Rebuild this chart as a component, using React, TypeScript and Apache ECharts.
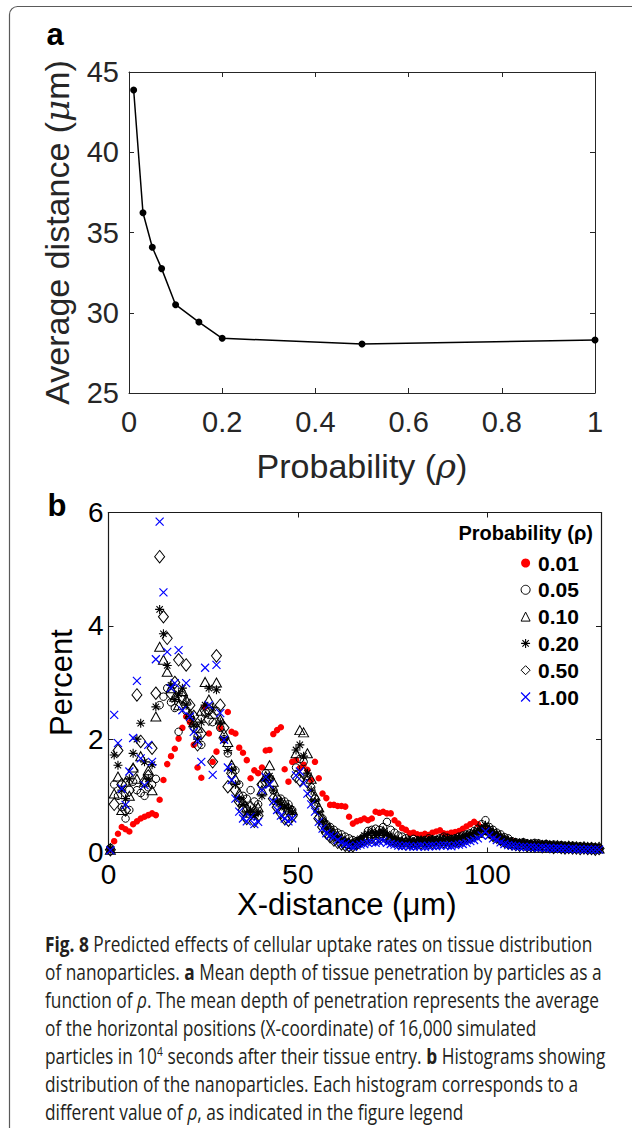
import React, { useEffect, useRef } from "react";
import * as echarts from "echarts";

// ---------- Panel a data ----------
const RHO_A = [0.01, 0.03, 0.05, 0.07, 0.1, 0.15, 0.2, 0.5, 1];
const AVG_DISTANCE = [43.88, 36.23, 34.08, 32.75, 30.5, 29.42, 28.41, 28.05, 28.3];

// ---------- Panel b data (1 µm bins, 0..130 µm) ----------
const BIN_WIDTH_UM = 1;
const P_001 = [
  0.05, 0.2, 0.33, 0.45, 0.41, 0.37, 0.5, 0.55, 0.6, 0.63,
  0.66, 0.69, 0.66, 0.93, 1.28, 1.56, 1.7, 1.83, 2.01, 2.2,
  2.4, 2.3, 1.9, 1.5, 1.32, 2.57, 2.1, 1.6, 1.78, 2.2,
  1.98, 2.48, 2.13, 2.1, 1.85, 1.76, 1.63, 1.31, 1.45, 1.4,
  1.5, 1.8, 1.81, 2.09, 2.16, 2.21, 1.47, 1.25, 1.6, 1.63,
  1.49, 1.55, 1.46, 1.28, 1.6, 1.31, 1.04, 0.96, 0.84, 0.84,
  0.82, 0.82, 0.81, 0.63, 0.51, 0.55, 0.57, 0.6, 0.57, 0.6,
  0.72, 0.7, 0.72, 0.69, 0.69, 0.57, 0.51, 0.43, 0.4, 0.34,
  0.35, 0.32, 0.31, 0.33, 0.31, 0.35, 0.37, 0.39, 0.34, 0.33,
  0.35, 0.36, 0.38, 0.42, 0.46, 0.5, 0.54, 0.5, 0.44, 0.4,
  0.35, 0.3, 0.25, 0.22, 0.2, 0.18, 0.2, 0.17, 0.15, 0.16,
  0.14, 0.15, 0.13, 0.14, 0.12, 0.13, 0.12, 0.11, 0.12, 0.1,
  0.11, 0.1, 0.1, 0.09, 0.1, 0.09, 0.08, 0.09, 0.08, 0.08,
];
const P_005 = [
  0.08, 1.2, 1.0, 0.8, 0.6, 0.75, 1.25, 1.1, 1.05, 1.0,
  1.15, 1.2, 1.3, 2.6, 2.75, 2.9, 2.65, 2.55, 2.13, 2.7,
  2.5, 2.35, 2.2, 2.05, 1.9, 2.45, 2.5, 2.3, 2.5, 2.2,
  2.0, 1.75, 1.5, 1.45, 1.2, 1.0, 0.95, 1.1, 0.9, 0.85,
  1.2, 1.4, 1.3, 1.1, 0.95, 0.95, 0.9, 0.85, 0.75, 1.5,
  1.65, 1.6, 1.35, 1.15, 0.95, 0.75, 0.6, 0.5, 0.45, 0.4,
  0.35, 0.32, 0.28, 0.25, 0.22, 0.2, 0.22, 0.28, 0.38, 0.4,
  0.42, 0.4, 0.45, 0.54, 0.4, 0.35, 0.3, 0.28, 0.25, 0.22,
  0.24, 0.22, 0.2, 0.22, 0.25, 0.23, 0.22, 0.25, 0.28, 0.26,
  0.24, 0.25, 0.28, 0.3, 0.32, 0.34, 0.38, 0.42, 0.5, 0.57,
  0.45, 0.4, 0.35, 0.32, 0.27, 0.25, 0.2, 0.18, 0.17, 0.18,
  0.16, 0.15, 0.17, 0.16, 0.14, 0.15, 0.13, 0.14, 0.12, 0.13,
  0.12, 0.11, 0.12, 0.1, 0.11, 0.1, 0.09, 0.1, 0.09, 0.08,
];
const P_010 = [
  0.05, 1.04, 1.34, 0.75, 1.25, 1.0, 1.5, 1.3, 1.7, 1.25,
  1.45, 1.1, 2.4, 3.63, 3.4, 3.19, 2.9, 2.75, 2.6, 2.85,
  2.7, 2.45, 2.3, 2.2, 2.5, 3.01, 2.7, 2.45, 3.0, 2.35,
  2.1, 1.95, 1.55, 1.3, 1.05, 0.9, 0.8, 0.7, 0.75, 0.8,
  1.1, 1.35, 1.54, 1.25, 1.0, 0.9, 0.85, 0.8, 0.75, 1.75,
  2.16, 2.12, 1.75, 1.3, 1.0, 0.8, 0.6, 0.5, 0.42, 0.35,
  0.3, 0.25, 0.2, 0.17, 0.15, 0.18, 0.22, 0.25, 0.3, 0.34,
  0.32, 0.35, 0.38, 0.3, 0.26, 0.22, 0.2, 0.18, 0.2, 0.18,
  0.17, 0.19, 0.2, 0.18, 0.2, 0.22, 0.2, 0.21, 0.24, 0.22,
  0.2, 0.22, 0.24, 0.26, 0.28, 0.3, 0.32, 0.35, 0.4, 0.45,
  0.4, 0.35, 0.3, 0.27, 0.22, 0.2, 0.17, 0.16, 0.15, 0.16,
  0.14, 0.13, 0.14, 0.12, 0.13, 0.12, 0.11, 0.12, 0.1, 0.11,
  0.1, 0.09, 0.1, 0.09, 0.08, 0.09, 0.08, 0.07, 0.08, 0.07,
];
const P_020 = [
  0.06, 1.72, 1.54, 1.1, 0.95, 1.3, 1.75, 2.0, 2.28, 1.6,
  1.3, 1.55, 2.57, 4.29, 3.86, 3.3, 2.95, 2.7, 2.8, 2.9,
  2.6, 2.4, 2.25, 2.0, 2.3, 2.6, 2.9, 2.55, 2.87, 2.3,
  2.0, 1.8, 1.45, 1.2, 0.95, 0.85, 0.7, 0.75, 0.65, 0.7,
  1.0, 1.3, 1.35, 1.1, 0.9, 0.85, 0.8, 0.78, 0.7, 1.81,
  1.9, 1.7, 1.4, 1.1, 0.9, 0.7, 0.55, 0.45, 0.38, 0.3,
  0.25, 0.22, 0.2, 0.18, 0.17, 0.2, 0.24, 0.3, 0.33, 0.36,
  0.3, 0.34, 0.36, 0.32, 0.28, 0.24, 0.22, 0.2, 0.19, 0.2,
  0.18, 0.2, 0.22, 0.2, 0.21, 0.23, 0.22, 0.24, 0.22, 0.25,
  0.23, 0.24, 0.26, 0.27, 0.3, 0.32, 0.35, 0.38, 0.42, 0.48,
  0.42, 0.36, 0.32, 0.28, 0.24, 0.21, 0.19, 0.17, 0.16, 0.15,
  0.16, 0.14, 0.15, 0.13, 0.14, 0.12, 0.13, 0.12, 0.11, 0.12,
  0.1, 0.11, 0.1, 0.09, 0.1, 0.09, 0.08, 0.09, 0.08, 0.07,
];
const P_050 = [
  0.05, 0.85, 1.8, 1.2, 0.75, 1.1, 1.45, 2.78, 1.96, 1.25,
  1.35, 1.84, 2.81, 5.22, 4.16, 3.78, 2.8, 3.0, 3.4, 2.75,
  3.31, 2.6, 2.4, 1.9, 2.1, 2.5, 2.35, 1.6, 3.47, 2.6,
  2.2, 1.16, 1.4, 1.1, 0.9, 0.75, 0.6, 0.8, 0.55, 0.65,
  1.2, 1.25, 1.3, 0.95, 0.8, 0.7, 0.6, 0.57, 0.65, 1.34,
  1.28, 1.4, 1.25, 1.0, 0.85, 0.6, 0.45, 0.35, 0.28, 0.22,
  0.18, 0.15, 0.13, 0.12, 0.12, 0.15, 0.2, 0.22, 0.25, 0.27,
  0.25, 0.28, 0.3, 0.26, 0.22, 0.2, 0.17, 0.16, 0.15, 0.17,
  0.15, 0.16, 0.17, 0.15, 0.17, 0.18, 0.16, 0.18, 0.19, 0.17,
  0.18, 0.2, 0.21, 0.22, 0.25, 0.27, 0.3, 0.33, 0.38, 0.42,
  0.36, 0.3, 0.27, 0.23, 0.2, 0.17, 0.15, 0.14, 0.13, 0.14,
  0.12, 0.12, 0.11, 0.12, 0.1, 0.11, 0.1, 0.09, 0.1, 0.09,
  0.08, 0.09, 0.08, 0.08, 0.07, 0.08, 0.07, 0.07, 0.06, 0.07,
];
const P_100 = [
  0.04, 2.43, 1.93, 1.13, 0.84, 1.43, 2.02, 3.03, 1.66, 1.19,
  1.9, 1.6, 3.41, 5.84, 4.59, 3.54, 2.9, 2.99, 3.57, 2.51,
  2.99, 2.4, 2.13, 1.96, 1.6, 3.26, 2.6, 1.37, 3.31, 2.46,
  1.99, 1.5, 1.28, 0.95, 0.72, 0.6, 0.55, 0.63, 0.5, 0.54,
  1.1, 1.33, 1.2, 0.9, 0.75, 0.65, 0.6, 0.55, 0.6, 1.36,
  1.43, 1.22, 1.04, 0.85, 0.72, 0.54, 0.42, 0.34, 0.3, 0.28,
  0.22, 0.18, 0.15, 0.12, 0.1, 0.12, 0.14, 0.15, 0.17, 0.18,
  0.17, 0.19, 0.2, 0.17, 0.15, 0.14, 0.12, 0.11, 0.12, 0.11,
  0.1, 0.11, 0.12, 0.1, 0.11, 0.12, 0.11, 0.12, 0.13, 0.12,
  0.11, 0.13, 0.14, 0.15, 0.17, 0.2, 0.22, 0.25, 0.3, 0.37,
  0.3, 0.25, 0.22, 0.18, 0.15, 0.13, 0.12, 0.11, 0.1, 0.1,
  0.09, 0.1, 0.09, 0.08, 0.09, 0.08, 0.08, 0.07, 0.08, 0.07,
  0.07, 0.06, 0.07, 0.06, 0.06, 0.05, 0.06, 0.05, 0.05, 0.05,
];
const RHO_LABELS = ["0.01", "0.05", "0.10", "0.20", "0.50", "1.00"];

const CAPTION_LINES = [
  "{b|Fig. 8} Predicted effects of cellular uptake rates on tissue distribution",
  "of nanoparticles. {b|a} Mean depth of tissue penetration by particles as a",
  "function of {i|ρ}. The mean depth of penetration represents the average",
  "of the horizontal positions (X-coordinate) of 16,000 simulated",
  "particles in 10{sup|4} seconds after their tissue entry. {b|b} Histograms showing",
  "distribution of the nanoparticles. Each histogram corresponds to a",
  "different value of {i|ρ}, as indicated in the figure legend",
];

const SANS = "'Liberation Sans', Arial, Helvetica, sans-serif";
const CAP_FONT = "'Open Sans', 'Noto Sans', sans-serif";
const CROSS = "path://M0,0L10,10M10,0L0,10";
const STAR = "path://M5,0L5,10M0,5L10,5M1.46,1.46L8.54,8.54M8.54,1.46L1.46,8.54";

const MARKERS = [
  { symbol: "circle", size: 6.5, fill: "#ff0000", stroke: "#ff0000", lw: 0 },
  { symbol: "circle", size: 7.5, fill: "rgba(0,0,0,0)", stroke: "#000", lw: 1 },
  { symbol: "triangle", size: [10, 9], fill: "rgba(0,0,0,0)", stroke: "#000", lw: 1 },
  { symbol: STAR, size: 9, fill: "rgba(0,0,0,0)", stroke: "#000", lw: 1.1 },
  { symbol: "diamond", size: [10, 12.5], fill: "rgba(0,0,0,0)", stroke: "#000", lw: 1 },
  { symbol: CROSS, size: 8, fill: "rgba(0,0,0,0)", stroke: "#0000ff", lw: 1.2 },
];

function measure(font: string, text: string): number {
  const ctx = document.createElement("canvas").getContext("2d");
  if (!ctx) return text.length * 10;
  ctx.font = font;
  return ctx.measureText(text).width;
}

export default function App() {
  const ref = useRef<HTMLDivElement>(null);

  useEffect(() => {
    if (!ref.current) return;
    const chart = echarts.init(ref.current, null, { renderer: "svg" });

    const seriesB = [P_001, P_005, P_010, P_020, P_050, P_100];
    const capSize = 22;
    const w1 =
      measure(`bold ${capSize}px 'Open Sans'`, "Fig. 8") +
      measure(`${capSize}px 'Open Sans'`, " Predicted effects of cellular uptake rates on tissue distribution");
    const capScale = 548 / w1;

    const axisCommonA = {
      axisLine: { show: true, onZero: false, lineStyle: { color: "#262626", width: 1 } },
      axisTick: { show: true, inside: true, length: 5, lineStyle: { color: "#262626", width: 1 } },
      splitLine: { show: false },
    };
    const axisCommonB = {
      axisLine: { show: true, onZero: false, lineStyle: { color: "#1a1a1a", width: 1.2 } },
      axisTick: { show: true, inside: true, length: 5, lineStyle: { color: "#1a1a1a", width: 1 } },
      splitLine: { show: false },
    };
    const labA = { fontSize: 29, color: "#262626", fontFamily: SANS };
    const labB = { fontSize: 28, color: "#000", fontFamily: SANS };

    const option: any = {
      animation: false,
      backgroundColor: "#fff",
      grid: [
        { left: 129, top: 72, width: 466, height: 321 },
        { left: 108.5, top: 512.5, width: 492.5, height: 340 },
      ],
      xAxis: [
        {
          gridIndex: 0, type: "value", min: 0, max: 1, interval: 0.2, position: "bottom",
          ...axisCommonA,
          axisLabel: { ...labA, margin: 14 },
          name: "Probability ({i|ρ})", nameLocation: "middle", nameGap: 56,
          nameTextStyle: {
            fontSize: 34, color: "#262626", fontFamily: SANS,
            rich: { i: { fontSize: 34, fontStyle: "italic", fontFamily: "'DejaVu Serif', 'Liberation Serif', serif", color: "#262626" } },
          },
        },
        { gridIndex: 0, type: "value", min: 0, max: 1, interval: 0.2, position: "top", ...axisCommonA, axisLabel: { show: false } },
        {
          gridIndex: 1, type: "value", min: 0, max: 130, interval: 50, position: "bottom",
          ...axisCommonB,
          axisLabel: { ...labB, margin: 8, showMaxLabel: false },
          name: "X-distance (μm)", nameLocation: "middle", nameGap: 36,
          nameTextStyle: { fontSize: 31, color: "#000", fontFamily: SANS, padding: [0, 16, 0, 0] },
        },
        { gridIndex: 1, type: "value", min: 0, max: 130, interval: 50, position: "top", ...axisCommonB, axisLabel: { show: false } },
      ],
      yAxis: [
        {
          gridIndex: 0, type: "value", min: 25, max: 45, interval: 5, position: "left",
          ...axisCommonA,
          axisLabel: { ...labA, margin: 10 },
          name: "Average distance ({i|μ}m)", nameLocation: "middle", nameGap: 55,
          nameTextStyle: {
            fontSize: 34, color: "#262626", fontFamily: SANS,
            rich: { i: { fontSize: 34, fontStyle: "italic", fontFamily: "'DejaVu Serif', 'Liberation Serif', serif", color: "#262626" } },
          },
        },
        { gridIndex: 0, type: "value", min: 25, max: 45, interval: 5, position: "right", ...axisCommonA, axisLabel: { show: false } },
        {
          gridIndex: 1, type: "value", min: 0, max: 6, interval: 2, position: "left",
          ...axisCommonB,
          axisLabel: { ...labB, margin: 5 },
          name: "Percent", nameLocation: "middle", nameGap: 30,
          nameTextStyle: { fontSize: 31, color: "#000", fontFamily: SANS },
        },
        { gridIndex: 1, type: "value", min: 0, max: 6, interval: 2, position: "right", ...axisCommonB, axisLabel: { show: false } },
      ],
      legend: {
        orient: "vertical",
        left: 520.5,
        top: 552,
        padding: 0,
        itemWidth: 9,
        itemHeight: 9,
        itemGap: 4.8,
        selectedMode: false,
        textStyle: { fontSize: 21, fontWeight: "bold", color: "#000", fontFamily: SANS, lineHeight: 22, padding: [0, 0, 0, 3] },
        data: RHO_LABELS.map((name, k) => ({
          name,
          icon: MARKERS[k].symbol,
          itemStyle: { color: MARKERS[k].fill, borderColor: MARKERS[k].stroke, borderWidth: MARKERS[k].lw },
        })),
      },
      series: [
        {
          name: "Average distance",
          type: "line",
          xAxisIndex: 0,
          yAxisIndex: 0,
          data: RHO_A.map((r, i) => [r, AVG_DISTANCE[i]]),
          symbol: "circle",
          symbolSize: 7,
          lineStyle: { color: "#000", width: 1.5 },
          itemStyle: { color: "#000" },
        },
        ...seriesB.map((vals, k) => ({
          name: RHO_LABELS[k],
          type: "scatter",
          xAxisIndex: 2,
          yAxisIndex: 2,
          data: vals.map((v, i) => [(i + 0.5) * BIN_WIDTH_UM, v]),
          symbol: MARKERS[k].symbol,
          symbolSize: MARKERS[k].size,
          itemStyle: {
            color: MARKERS[k].fill,
            borderColor: MARKERS[k].stroke,
            borderWidth: MARKERS[k].lw,
            opacity: 1,
          },
        })),
      ],
      graphic: [
        {
          type: "rect",
          shape: { x: 9.5, y: 6.5, width: 700, height: 1300, r: 8 },
          style: { fill: "none", stroke: "#5a5a5a", lineWidth: 1.2 },
          silent: true,
        },
        {
          type: "text", x: 55, y: 34,
          style: { text: "a", fontSize: 31, fontWeight: "bold", fontFamily: SANS, fill: "#000", align: "center", verticalAlign: "middle" },
        },
        {
          type: "text", x: 57, y: 505,
          style: { text: "b", fontSize: 31, fontWeight: "bold", fontFamily: SANS, fill: "#000", align: "center", verticalAlign: "middle" },
        },
        {
          type: "text", x: 593, y: 533,
          style: { text: "Probability (ρ)", fontSize: 20, fontWeight: "bold", fontFamily: SANS, fill: "#000", align: "right", verticalAlign: "middle" },
        },
        ...CAPTION_LINES.map((line, k) => ({
          type: "text",
          x: 45,
          y: 944 + 28 * k,
          scaleX: capScale,
          style: {
            text: line,
            fontSize: capSize,
            fontFamily: CAP_FONT,
            fill: "#231f20",
            align: "left",
            verticalAlign: "middle",
            lineHeight: 24,
            rich: {
              b: { fontSize: capSize, fontFamily: CAP_FONT, fontWeight: "bold", fill: "#231f20", lineHeight: 24 },
              i: { fontSize: capSize, fontFamily: CAP_FONT, fontStyle: "italic", fill: "#231f20", lineHeight: 24 },
              sup: { fontSize: 13, fontFamily: CAP_FONT, fill: "#231f20", verticalAlign: "top", lineHeight: 24 },
            },
          },
        })),
      ],
    };

    chart.setOption(option);
    return () => chart.dispose();
  }, []);

  return (
    <div
      ref={ref}
      style={{ position: "absolute", left: 0, top: 0, width: 632, height: 1128, background: "#fff" }}
    />
  );
}
